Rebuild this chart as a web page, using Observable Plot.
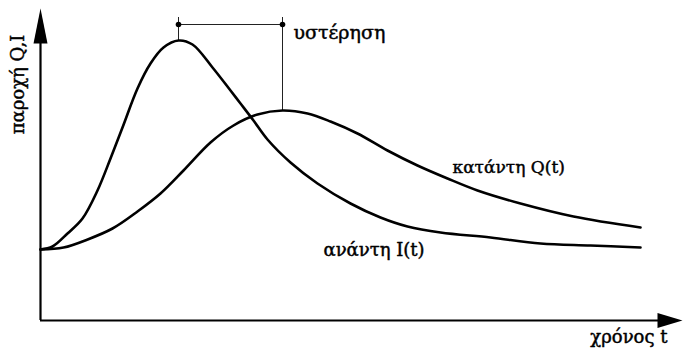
<!DOCTYPE html>
<html>
<head>
<meta charset="utf-8">
<script src="https://cdn.jsdelivr.net/npm/d3@7"></script>
<script src="https://cdn.jsdelivr.net/npm/@observablehq/plot@0.6"></script>
<style>
  html, body { margin: 0; padding: 0; background: #fff; }
</style>
</head>
<body>
<div id="chart"></div>
<script>
// Upstream inflow I(t)
const tI = [0,1.2,2.7,4.2,5.7,7,8.2,9.7,11,12.3,13.8,15.2,17.2,19,20,21.3,22.7,25,27.7,31,34,36.7,40,45,50,55,60];
const vI = [7.1,7.4,8.7,10.2,13,16.2,19.3,23.2,25.7,27.3,28,27.6,25.3,23.0,21.7,20,18.1,15.8,13.7,11.7,10.3,9.4,8.8,8.3,7.7,7.5,7.3];
// Downstream outflow Q(t)
const tQ = [0,2.3,4.7,7.2,9.7,12,14.3,17,19.3,21.7,24.2,26.7,29,31.7,34.7,37.7,40.7,43.7,48,53.3,60];
const vQ = [7.1,7.3,8.1,9.2,10.9,12.7,15,17.8,19.5,20.6,21,20.7,19.9,18.7,17,15.5,14.2,13,11.7,10.4,9.3];

// Labels
const labelTexts = ["υστέρηση", "κατάντη Q(t)", "ανάντη I(t)"];
const labelT = [25.3, 41.2, 28.3];
const labelV = [28.2, 14.8, 6.5];
const labelSizes = [19, 17, 18];
const xLabel = "χρόνος t";
const yLabel = "παροχή Q,I";

// Axis extents
const tMax = 64.3;
const vMax = 32;
const lagLevel = 29.6;
const lagTickTop = 30.3;

const inflow = tI.map((t, i) => ({t, v: vI[i]}));
const outflow = tQ.map((t, i) => ({t, v: vQ[i]}));
const labels = labelTexts.map((text, i) => ({text, t: labelT[i], v: labelV[i], size: labelSizes[i]}));

const peakI = inflow.reduce((a, b) => (b.v > a.v ? b : a));
const peakQ = outflow.reduce((a, b) => (b.v > a.v ? b : a));

const arrowShape = {
  draw(context, l, r) {
    context.moveTo(0, -l);
    context.lineTo(-r, 0);
    context.lineTo(r, 0);
    context.closePath();
  }
};

const font = "DejaVu Serif";
const textOpts = {fill: "#000", stroke: "#000", strokeWidth: 0.45, fontFamily: font, fontSize: 18};

const chart = Plot.plot({
  width: 683,
  height: 351,
  marginLeft: 40,
  marginRight: 0,
  marginTop: 0,
  marginBottom: 31,
  x: {domain: [0, tMax], axis: null},
  y: {domain: [0, vMax], axis: null},
  style: {background: "#fff", color: "#000"},
  marks: [
    // axes
    Plot.ruleY([0], {x1: 0, x2: tMax - 2.2, stroke: "#000", strokeWidth: 2.2}),
    Plot.ruleX([0], {y1: 0, y2: vMax - 3, stroke: "#000", strokeWidth: 2.2}),
    Plot.vector([{t: tMax - 0.1, v: 0}], {x: "t", y: "v", length: 25, r: 7.5, rotate: 90, anchor: "end", shape: arrowShape, fill: "#000", stroke: "none"}),
    Plot.vector([{t: 0, v: vMax - 0.8}], {x: "t", y: "v", length: 35, r: 7, rotate: 0, anchor: "end", shape: arrowShape, fill: "#000", stroke: "none"}),
    // lag annotation
    Plot.ruleY([lagLevel], {x1: peakI.t, x2: peakQ.t, stroke: "#222", strokeWidth: 1}),
    Plot.ruleX([peakI], {x: "t", y1: "v", y2: lagTickTop, stroke: "#222", strokeWidth: 1}),
    Plot.ruleX([peakQ], {x: "t", y1: "v", y2: lagTickTop, stroke: "#222", strokeWidth: 1}),
    Plot.dot([peakI, peakQ], {x: "t", y: () => lagLevel, r: 2.8, fill: "#000", stroke: "none"}),
    // curves
    Plot.line(inflow, {x: "t", y: "v", curve: "catmull-rom", stroke: "#000", strokeWidth: 2.6}),
    Plot.line(outflow, {x: "t", y: "v", curve: "catmull-rom", stroke: "#000", strokeWidth: 2.6}),
    // labels
    Plot.text(labels, {x: "t", y: "v", text: "text", textAnchor: "start", lineAnchor: "bottom", ...textOpts, fontSize: "size"}),
    Plot.text([xLabel], {x: () => tMax - 1.6, y: () => -2.2, textAnchor: "end", lineAnchor: "bottom", ...textOpts}),
    Plot.text([yLabel], {x: () => -2.2, y: () => 23.6, rotate: -90, textAnchor: "middle", lineAnchor: "middle", ...textOpts})
  ]
});
document.getElementById("chart").appendChild(chart);
</script>
</body>
</html>
